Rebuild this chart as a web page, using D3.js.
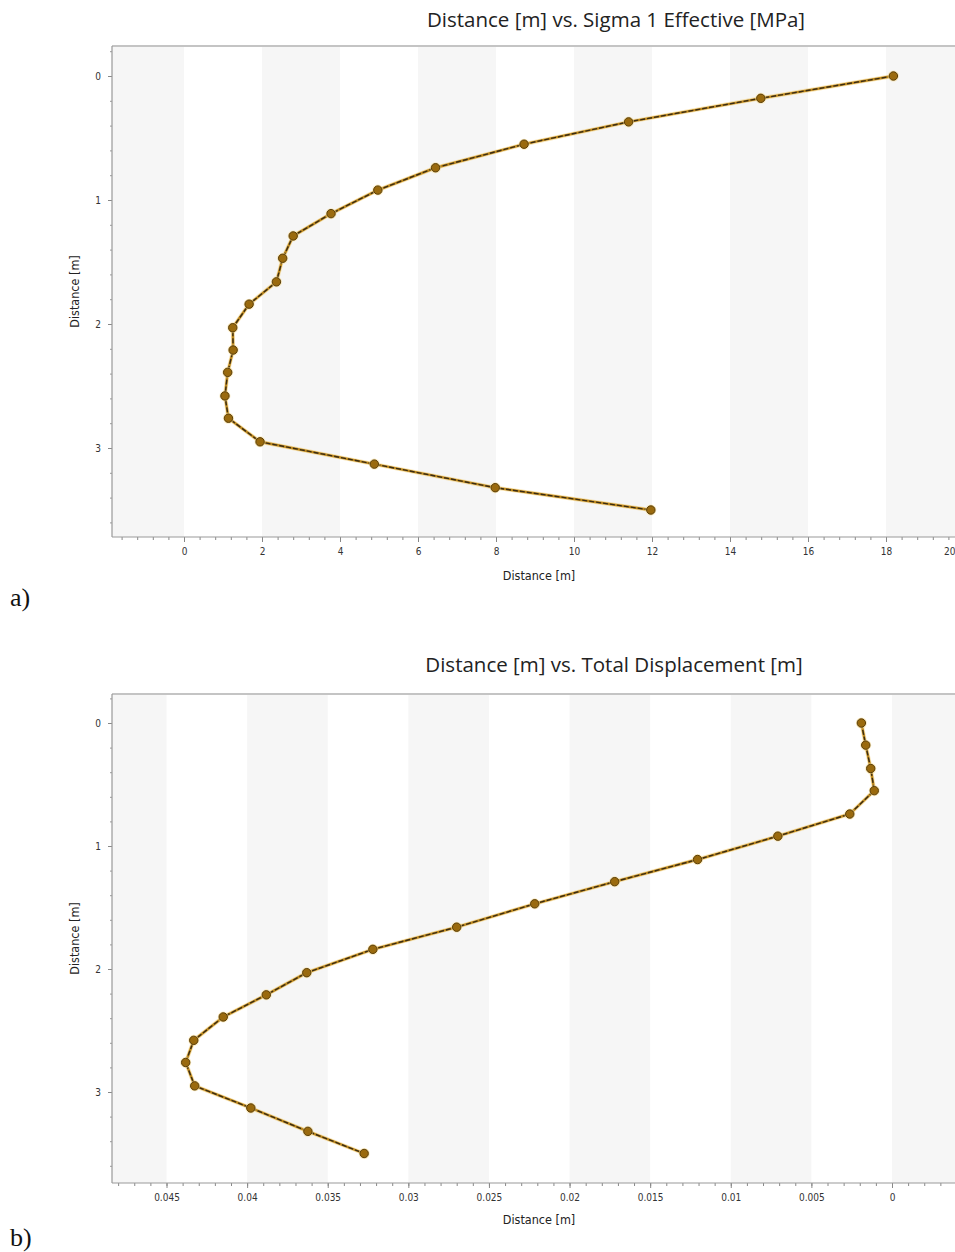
<!DOCTYPE html>
<html>
<head>
<meta charset="utf-8">
<script src="https://cdn.jsdelivr.net/npm/d3@7"></script>
<style>
  html, body { margin: 0; padding: 0; background: #fff; }
  svg { display: block; }
</style>
</head>
<body>
<svg id="chart" width="955" height="1252"></svg>
<script>
// ---------- data ----------
const depth = [0, 0.18, 0.37, 0.55, 0.74, 0.92, 1.11, 1.29, 1.47, 1.66, 1.84, 2.03, 2.21, 2.39, 2.58, 2.76, 2.95, 3.13, 3.32, 3.5];
const sigma1 = [18.19, 14.79, 11.40, 8.72, 6.45, 4.97, 3.77, 2.80, 2.53, 2.37, 1.67, 1.25, 1.26, 1.12, 1.05, 1.14, 1.95, 4.88, 7.98, 11.97];
const displacement = [0.0019, 0.00163, 0.00132, 0.0011, 0.00262, 0.00708, 0.01206, 0.0172, 0.02216, 0.027, 0.0322, 0.0363, 0.03881, 0.04148, 0.04331, 0.04381, 0.04325, 0.03977, 0.03623, 0.03274];
const sigmaTicks = [0, 2, 4, 6, 8, 10, 12, 14, 16, 18, 20];
const dispTicks = [0.045, 0.04, 0.035, 0.03, 0.025, 0.02, 0.015, 0.01, 0.005, 0];
const depthTicks = [0, 1, 2, 3];
const titles = ["Distance [m] vs. Sigma 1 Effective [MPa]", "Distance [m] vs. Total Displacement [m]"];
const axisLabel = "Distance [m]";
const panelLabels = ["a)", "b)"];

const svg = d3.select("#chart");
const W = 955;
const tickFont = "'Liberation Sans Narrow','DejaVu Sans Condensed','Roboto',sans-serif";

function drawChart(cfg) {
  const g = svg.append("g");
  const x = d3.scaleLinear().domain(cfg.xDom).range(cfg.xRange);
  const y = d3.scaleLinear().domain([0, 3]).range(cfg.yRange);
  const left = 112, right = W, top = cfg.top, bottom = cfg.bottom;

  const clipId = "clip" + cfg.id;
  svg.append("defs").append("clipPath").attr("id", clipId)
    .append("rect").attr("x", left).attr("y", top).attr("width", right - left).attr("height", bottom - top);

  // bands
  const bandG = g.append("g").attr("clip-path", `url(#${clipId})`);
  bandG.selectAll("rect").data(cfg.bands).join("rect")
    .attr("x", d => Math.min(x(d[0]), x(d[1])))
    .attr("width", d => Math.abs(x(d[1]) - x(d[0])))
    .attr("y", top).attr("height", bottom - top)
    .attr("fill", "#f6f6f6");

  // top border
  g.append("line").attr("x1", left).attr("x2", right).attr("y1", top).attr("y2", top)
    .attr("stroke", "#c4c4c4").attr("stroke-width", 2);

  // x axis
  const xMinor = [];
  const step = cfg.minorStep;
  const lo = Math.min(x.invert(left), x.invert(right)), hi = Math.max(x.invert(left), x.invert(right));
  for (let v = Math.ceil(lo / step) * step; v <= hi; v += step) xMinor.push(+v.toFixed(6));
  const xAxisMinor = d3.axisBottom(x).tickValues(xMinor).tickSize(3).tickFormat("");
  const gxm = g.append("g").attr("transform", `translate(0,${bottom})`).call(xAxisMinor);
  gxm.select(".domain").remove();
  gxm.selectAll("line").attr("stroke", "#888");

  const xAxis = d3.axisBottom(x).tickValues(cfg.xTicks).tickSize(5).tickPadding(6).tickFormat(d => String(d));
  const gx = g.append("g").attr("transform", `translate(0,${bottom})`).call(xAxis);
  gx.select(".domain").remove();
  gx.selectAll("line").attr("stroke", "#888");
  gx.selectAll("text").attr("font-family", tickFont).attr("font-size", 10).attr("fill", "#333");
  // keep an edge label inside the canvas
  gx.selectAll(".tick").filter(d => x(d) > W - 8).select("text")
    .attr("text-anchor", "end").attr("x", d => W - x(d));
  gx.selectAll(".tick").filter(d => x(d) > W).select("line").remove();
  g.append("line").attr("x1", left).attr("x2", right).attr("y1", bottom).attr("y2", bottom)
    .attr("stroke", "#999").attr("stroke-width", 1.2);

  // y axis
  const yMinor = [];
  for (let v = -0.2; v <= 3.7; v += 0.2) yMinor.push(+v.toFixed(2));
  const gym = g.append("g").attr("transform", `translate(${left},0)`)
    .call(d3.axisLeft(y).tickValues(yMinor).tickSize(2).tickFormat(""));
  gym.select(".domain").remove();
  gym.selectAll("line").attr("stroke", "#999");
  const gy = g.append("g").attr("transform", `translate(${left},0)`)
    .call(d3.axisLeft(y).tickValues(depthTicks).tickSize(4).tickPadding(7).tickFormat(d => String(d)));
  gy.select(".domain").remove();
  gy.selectAll("line").attr("stroke", "#888");
  gy.selectAll("text").attr("font-family", tickFont).attr("font-size", 10).attr("fill", "#333");
  g.append("line").attr("x1", left).attr("x2", left).attr("y1", top).attr("y2", bottom)
    .attr("stroke", "#999").attr("stroke-width", 1.2);

  // line + markers
  const pts = cfg.values.map((v, i) => [v, depth[i]]);
  const line = d3.line().x(d => x(d[0])).y(d => y(d[1]));
  const dataG = g.append("g").attr("clip-path", `url(#${clipId})`);
  dataG.append("path").attr("d", line(pts)).attr("fill", "none")
    .attr("stroke", "#f3cf7a").attr("stroke-width", 4).attr("stroke-opacity", 0.55);
  dataG.append("path").attr("d", line(pts)).attr("fill", "none")
    .attr("stroke", "#c08a1e").attr("stroke-width", 2.4);
  dataG.append("path").attr("d", line(pts)).attr("fill", "none")
    .attr("stroke", "#3a2c14").attr("stroke-width", 1.4).attr("stroke-dasharray", "5,2");
  dataG.selectAll("circle.halo").data(pts).join("circle").attr("class", "halo")
    .attr("cx", d => x(d[0])).attr("cy", d => y(d[1])).attr("r", 5.5)
    .attr("fill", "#f6dc96").attr("opacity", 0.6);
  dataG.selectAll("circle.pt").data(pts).join("circle").attr("class", "pt")
    .attr("cx", d => x(d[0])).attr("cy", d => y(d[1])).attr("r", 4.2)
    .attr("fill", "#9a6a0e").attr("stroke", "#5a3e08").attr("stroke-width", 1);

  // texts
  g.append("text").attr("x", cfg.titleX).attr("y", cfg.titleY).attr("text-anchor", "middle")
    .attr("font-family", "'Open Sans','Noto Sans',sans-serif").attr("font-size", 20.5).attr("fill", "#222")
    .text(cfg.title);
  g.append("text").attr("x", 539).attr("y", cfg.xLabelY).attr("text-anchor", "middle")
    .attr("font-family", tickFont).attr("font-size", 12.5).attr("fill", "#222").text(axisLabel);
  g.append("text").attr("transform", `translate(79,${(top + bottom) / 2}) rotate(-90)`).attr("text-anchor", "middle")
    .attr("font-family", tickFont).attr("font-size", 12.5).attr("fill", "#222").text(axisLabel);
  g.append("text").attr("x", 10).attr("y", cfg.panelY)
    .attr("font-family", "'Liberation Serif','DejaVu Serif',serif").attr("font-size", 26).attr("fill", "#111")
    .text(cfg.panel);
}

drawChart({
  id: "a", values: sigma1, xDom: [0, 18], xRange: [184, 886], yRange: [76, 448],
  top: 46, bottom: 537, xTicks: sigmaTicks, minorStep: 0.4,
  bands: [[-2, 0], [2, 4], [6, 8], [10, 12], [14, 16], [18, 20]],
  title: titles[0], titleX: 616, titleY: 27, xLabelY: 580, panelY: 606, panel: panelLabels[0]
});
drawChart({
  id: "b", values: displacement, xDom: [0.045, 0], xRange: [166.5, 892], yRange: [723, 1092],
  top: 694, bottom: 1183, xTicks: dispTicks, minorStep: 0.001,
  bands: [[0.05, 0.045], [0.04, 0.035], [0.03, 0.025], [0.02, 0.015], [0.01, 0.005], [0, -0.005]],
  title: titles[1], titleX: 614, titleY: 672, xLabelY: 1224, panelY: 1246, panel: panelLabels[1]
});
</script>
</body>
</html>
